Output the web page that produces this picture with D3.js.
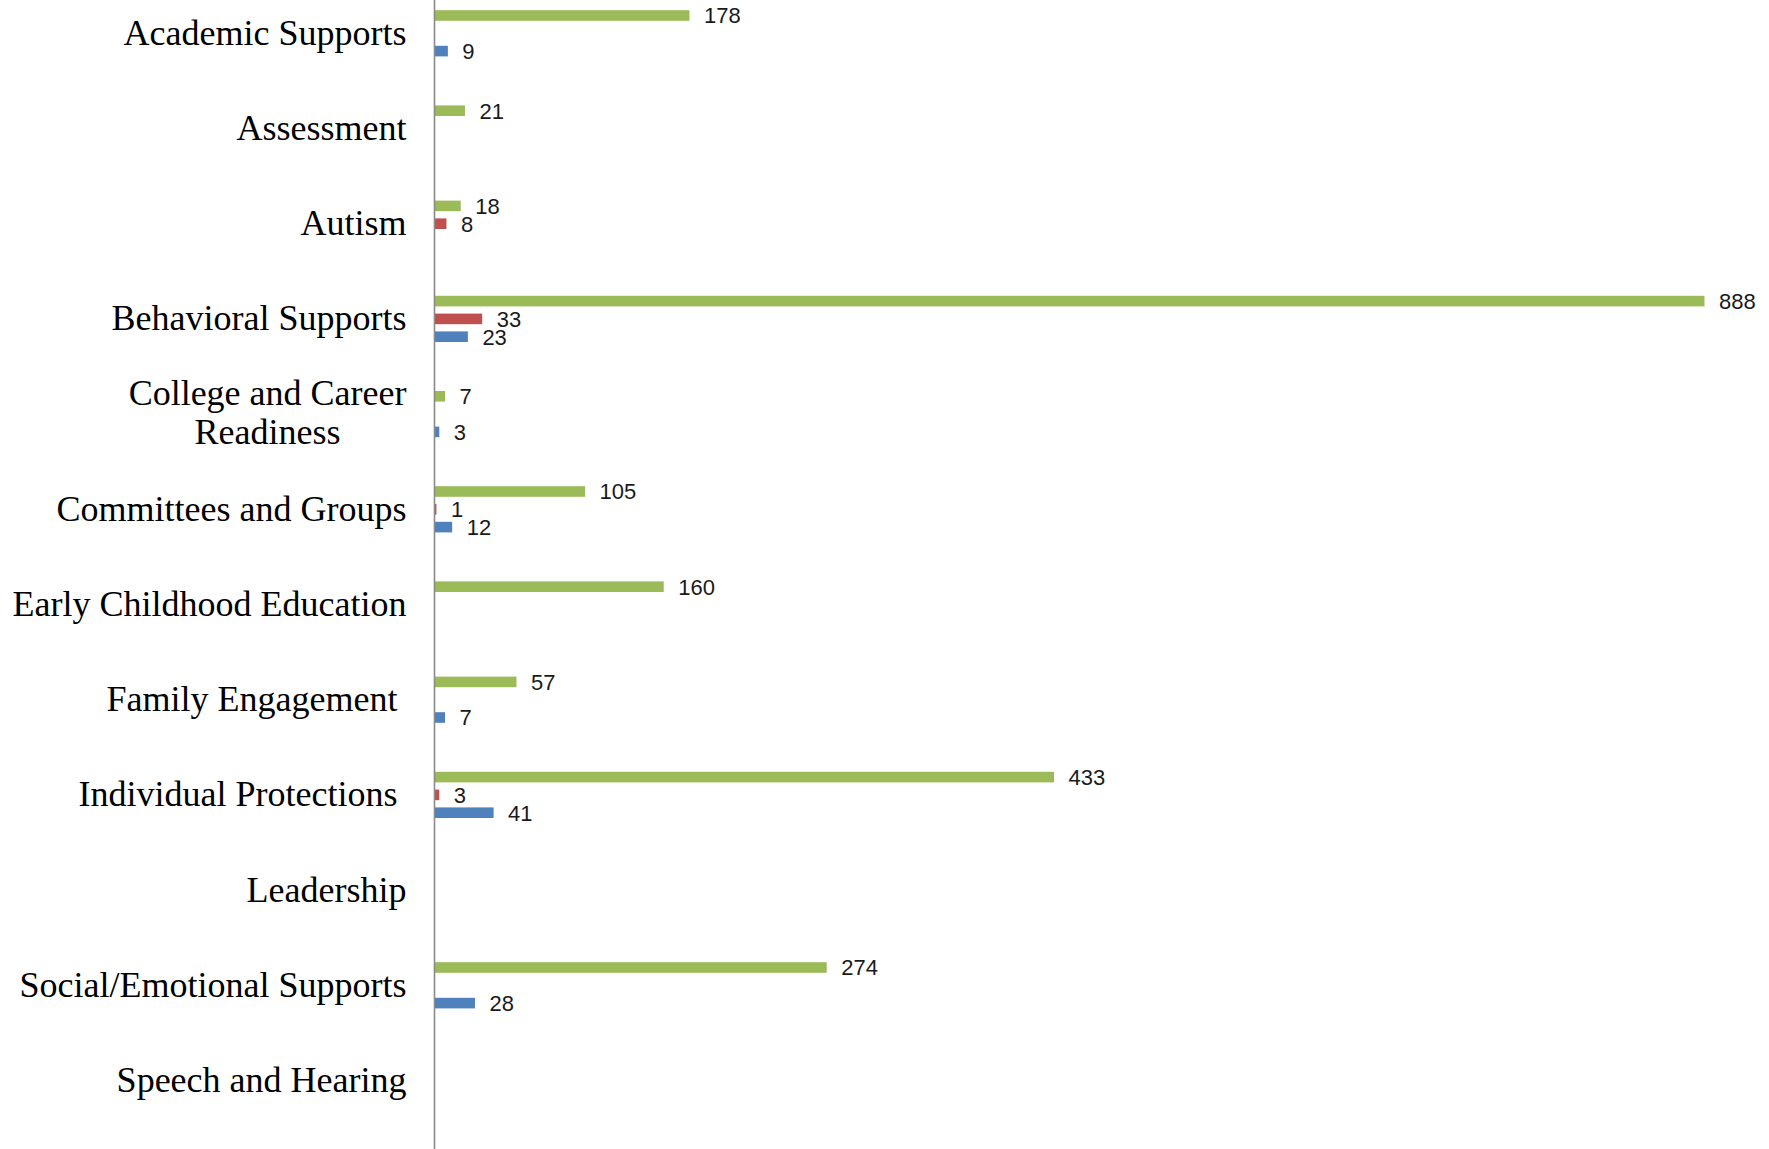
<!DOCTYPE html>
<html>
<head>
<meta charset="utf-8">
<script src="https://cdn.jsdelivr.net/npm/d3@7"></script>
<style>
  html, body { margin: 0; padding: 0; background: #ffffff; }
  svg { display: block; }
</style>
</head>
<body>
<script>
// Categories, top to bottom
const categories = [
  "Academic Supports",
  "Assessment",
  "Autism",
  "Behavioral Supports",
  "College and Career Readiness",
  "Committees and Groups",
  "Early Childhood Education",
  "Family Engagement ",
  "Individual Protections ",
  "Leadership",
  "Social/Emotional Supports",
  "Speech and Hearing"
];

// Wrapped category labels
const labelLines = {
  "College and Career Readiness": ["College and Career", "Readiness"]
};

// Series values per category (null = no bar)
const greenValues = [178, 21, 18, 888, 7, 105, 160, 57, 433, null, 274, null];
const redValues   = [null, null, 8, 33, null, 1, null, null, 3, null, null, null];
const blueValues  = [9, null, null, 23, 3, 12, null, 7, 41, null, 28, null];

const seriesNames  = ["green", "red", "blue"];
const seriesColors = ["#9BBB59", "#C0504D", "#4F81BD"];
const seriesValues = [greenValues, redValues, blueValues];

const W = 1769, H = 1149;
const axisX = 434.5;

const svg = d3.select("body").append("svg")
  .attr("width", W).attr("height", H);

const x = d3.scaleLinear().domain([0, 888]).range([axisX, 1704]);
const y = d3.scaleBand().domain(categories).range([-14.3, -14.3 + 12 * 95.2]);
const ySeries = d3.scalePoint().domain(seriesNames).range([-17.8, 17.8]);
const barH = 10.6;

// Flatten bars
const bars = [];
categories.forEach((c, i) => {
  seriesNames.forEach((s, k) => {
    const v = seriesValues[k][i];
    if (v != null) bars.push({ cat: c, series: s, color: seriesColors[k], value: v });
  });
});

const cy = d => y(d.cat) + y.bandwidth() / 2 + ySeries(d.series);

svg.append("g").selectAll("rect").data(bars).join("rect")
  .attr("x", x(0) + 0.5)
  .attr("y", d => cy(d) - barH / 2)
  .attr("width", d => x(d.value) - x(0))
  .attr("height", barH)
  .attr("fill", d => d.color);

svg.append("g").selectAll("text").data(bars).join("text")
  .attr("x", d => x(d.value) + 15)
  .attr("y", d => cy(d))
  .attr("dy", "0.36em")
  .attr("font-family", "'Liberation Sans Narrow', 'Arial Narrow', sans-serif")
  .attr("font-size", 22)
  .attr("fill", "#1a1a1a")
  .text(d => d.value);

// Category axis
const axisG = svg.append("g")
  .attr("transform", `translate(${axisX},0)`)
  .call(d3.axisLeft(y).tickSize(0).tickPadding(28));
axisG.select(".domain").remove();
axisG.selectAll(".tick text")
  .attr("font-family", "'Liberation Serif', 'Times New Roman', serif")
  .attr("font-size", 36)
  .attr("fill", "#000")
  .attr("dy", "0.32em")
  .style("white-space", "pre");

axisG.selectAll(".tick text").each(function(d) {
  const lines = labelLines[d];
  if (!lines) return;
  const t = d3.select(this).text(null).attr("dy", null).attr("text-anchor", "middle");
  const spans = lines.map((ln, i) =>
    t.append("tspan").attr("x", 0).attr("y", -9 + i * 39).text(ln));
  const maxW = d3.max(spans, s => s.node().getComputedTextLength());
  spans.forEach(s => s.attr("x", -28 - maxW / 2));
});

// Vertical axis line
svg.append("line")
  .attr("x1", axisX).attr("x2", axisX)
  .attr("y1", 0).attr("y2", H)
  .attr("stroke", "#8a8a8a").attr("stroke-width", 1.6);
</script>
</body>
</html>
